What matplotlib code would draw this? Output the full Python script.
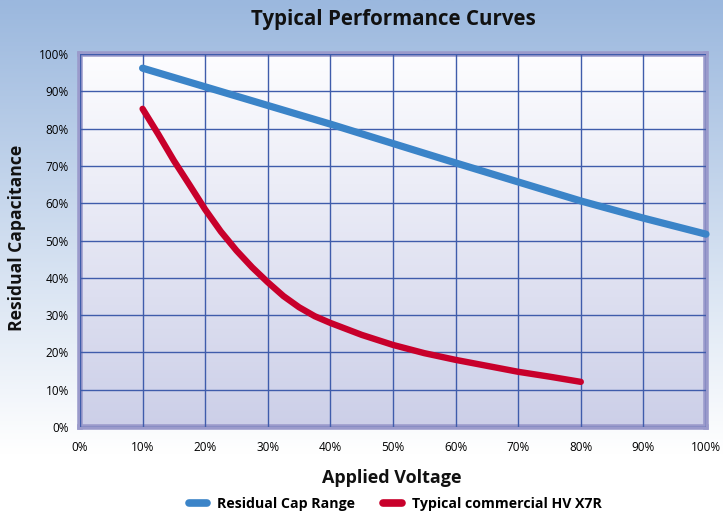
import matplotlib.pyplot as plt
import numpy as np
from matplotlib.lines import Line2D

plt.rcParams['font.family'] = ['Open Sans', 'DejaVu Sans']

# Data (applied voltage %, residual capacitance %)
voltage_blue = [10, 20, 30, 40, 50, 60, 70, 80, 90, 100]
residual_cap_range = [96.2, 91.2, 86.2, 81.2, 76.0, 70.8, 65.7, 60.6, 56.0, 51.7]

voltage_red = [10, 12.5, 15, 17.5, 20, 22.5, 25, 27.5, 30, 32.5, 35, 37.5, 40,
               45, 50, 55, 60, 65, 70, 75, 80]
typical_hv_x7r = [85.3, 78.5, 71.4, 64.9, 58.3, 52.4, 47.3, 42.8, 38.8, 35.1, 32.1, 29.7, 27.9,
                  24.7, 22.0, 19.8, 18.0, 16.4, 14.8, 13.5, 12.1]

tick_vals = list(range(0, 101, 10))
tick_labels = [f"{v}%" for v in tick_vals]

W, H = 723, 515
fig = plt.figure(figsize=(W / 100, H / 100), dpi=100)

# figure background: light blue at top fading to white
bg = fig.add_axes([0, 0, 1, 1], zorder=-10)
t = np.linspace(0, 1, 256)[:, None]
top = np.array([155, 184, 222]) / 255
bot = np.array([255, 255, 255]) / 255
frac = np.clip(t / 0.88, 0, 1)
grad = top * (1 - frac[..., None]) + bot * frac[..., None]
bg.imshow(grad, aspect='auto', extent=[0, 1, 0, 1])
bg.axis('off')

ax = fig.add_axes([80 / W, (H - 427) / H, 626 / W, 373 / H])
ax.set_xlim(0, 100)
ax.set_ylim(0, 100)

# plot-area gradient: white at top, lavender at bottom
ptop = np.array([253, 253, 255]) / 255
pbot = np.array([204, 207, 232]) / 255
pg = ptop * (1 - t[..., None]) + pbot * t[..., None]
ax.imshow(pg, aspect='auto', extent=[0, 100, 0, 100], zorder=0)

ax.set_xticks(tick_vals)
ax.set_yticks(tick_vals)
ax.set_xticklabels(tick_labels, fontsize=8.5)
ax.set_yticklabels(tick_labels, fontsize=8.5)
ax.tick_params(length=0, pad=8)
ax.tick_params(axis='x', pad=10)
ax.grid(True, color='#3f5cab', linewidth=1.0, zorder=1)
ax.set_axisbelow(False)
for s in ax.spines.values():
    s.set_color('#9a9acb')
    s.set_linewidth(4)

ax.plot(voltage_blue, residual_cap_range, color='#3b84c8', lw=5.2,
        solid_capstyle='round', solid_joinstyle='round', zorder=3, clip_on=False)
ax.plot(voltage_red, typical_hv_x7r, color='#c8002b', lw=4.6,
        solid_capstyle='round', solid_joinstyle='round', zorder=4, clip_on=False)

fig.text(393 / W, 1 - 20 / H, "Typical Performance Curves", ha='center', va='center',
         fontsize=14.8, fontweight='bold', color='#111111')
fig.text(392 / W, 1 - 478 / H, "Applied Voltage", ha='center', va='center',
         fontsize=13, fontweight='bold', color='#111111')
fig.text(17 / W, 1 - 238 / H, "Residual Capacitance", ha='center', va='center',
         rotation=90, fontsize=12.6, fontweight='bold', color='#111111')

handles = [Line2D([0], [0], color='#3b84c8', lw=5.5, solid_capstyle='round'),
           Line2D([0], [0], color='#c8002b', lw=5.5, solid_capstyle='round')]
fig.legend(handles, ["Residual Cap Range", "Typical commercial HV X7R"],
           loc='center', bbox_to_anchor=(395 / W, 1 - 504 / H), ncol=2,
           frameon=False, handlelength=1.3, handletextpad=0.7, columnspacing=2.0,
           prop={'weight': 'bold', 'size': 10.2})

fig.savefig('out.png', dpi=100)
